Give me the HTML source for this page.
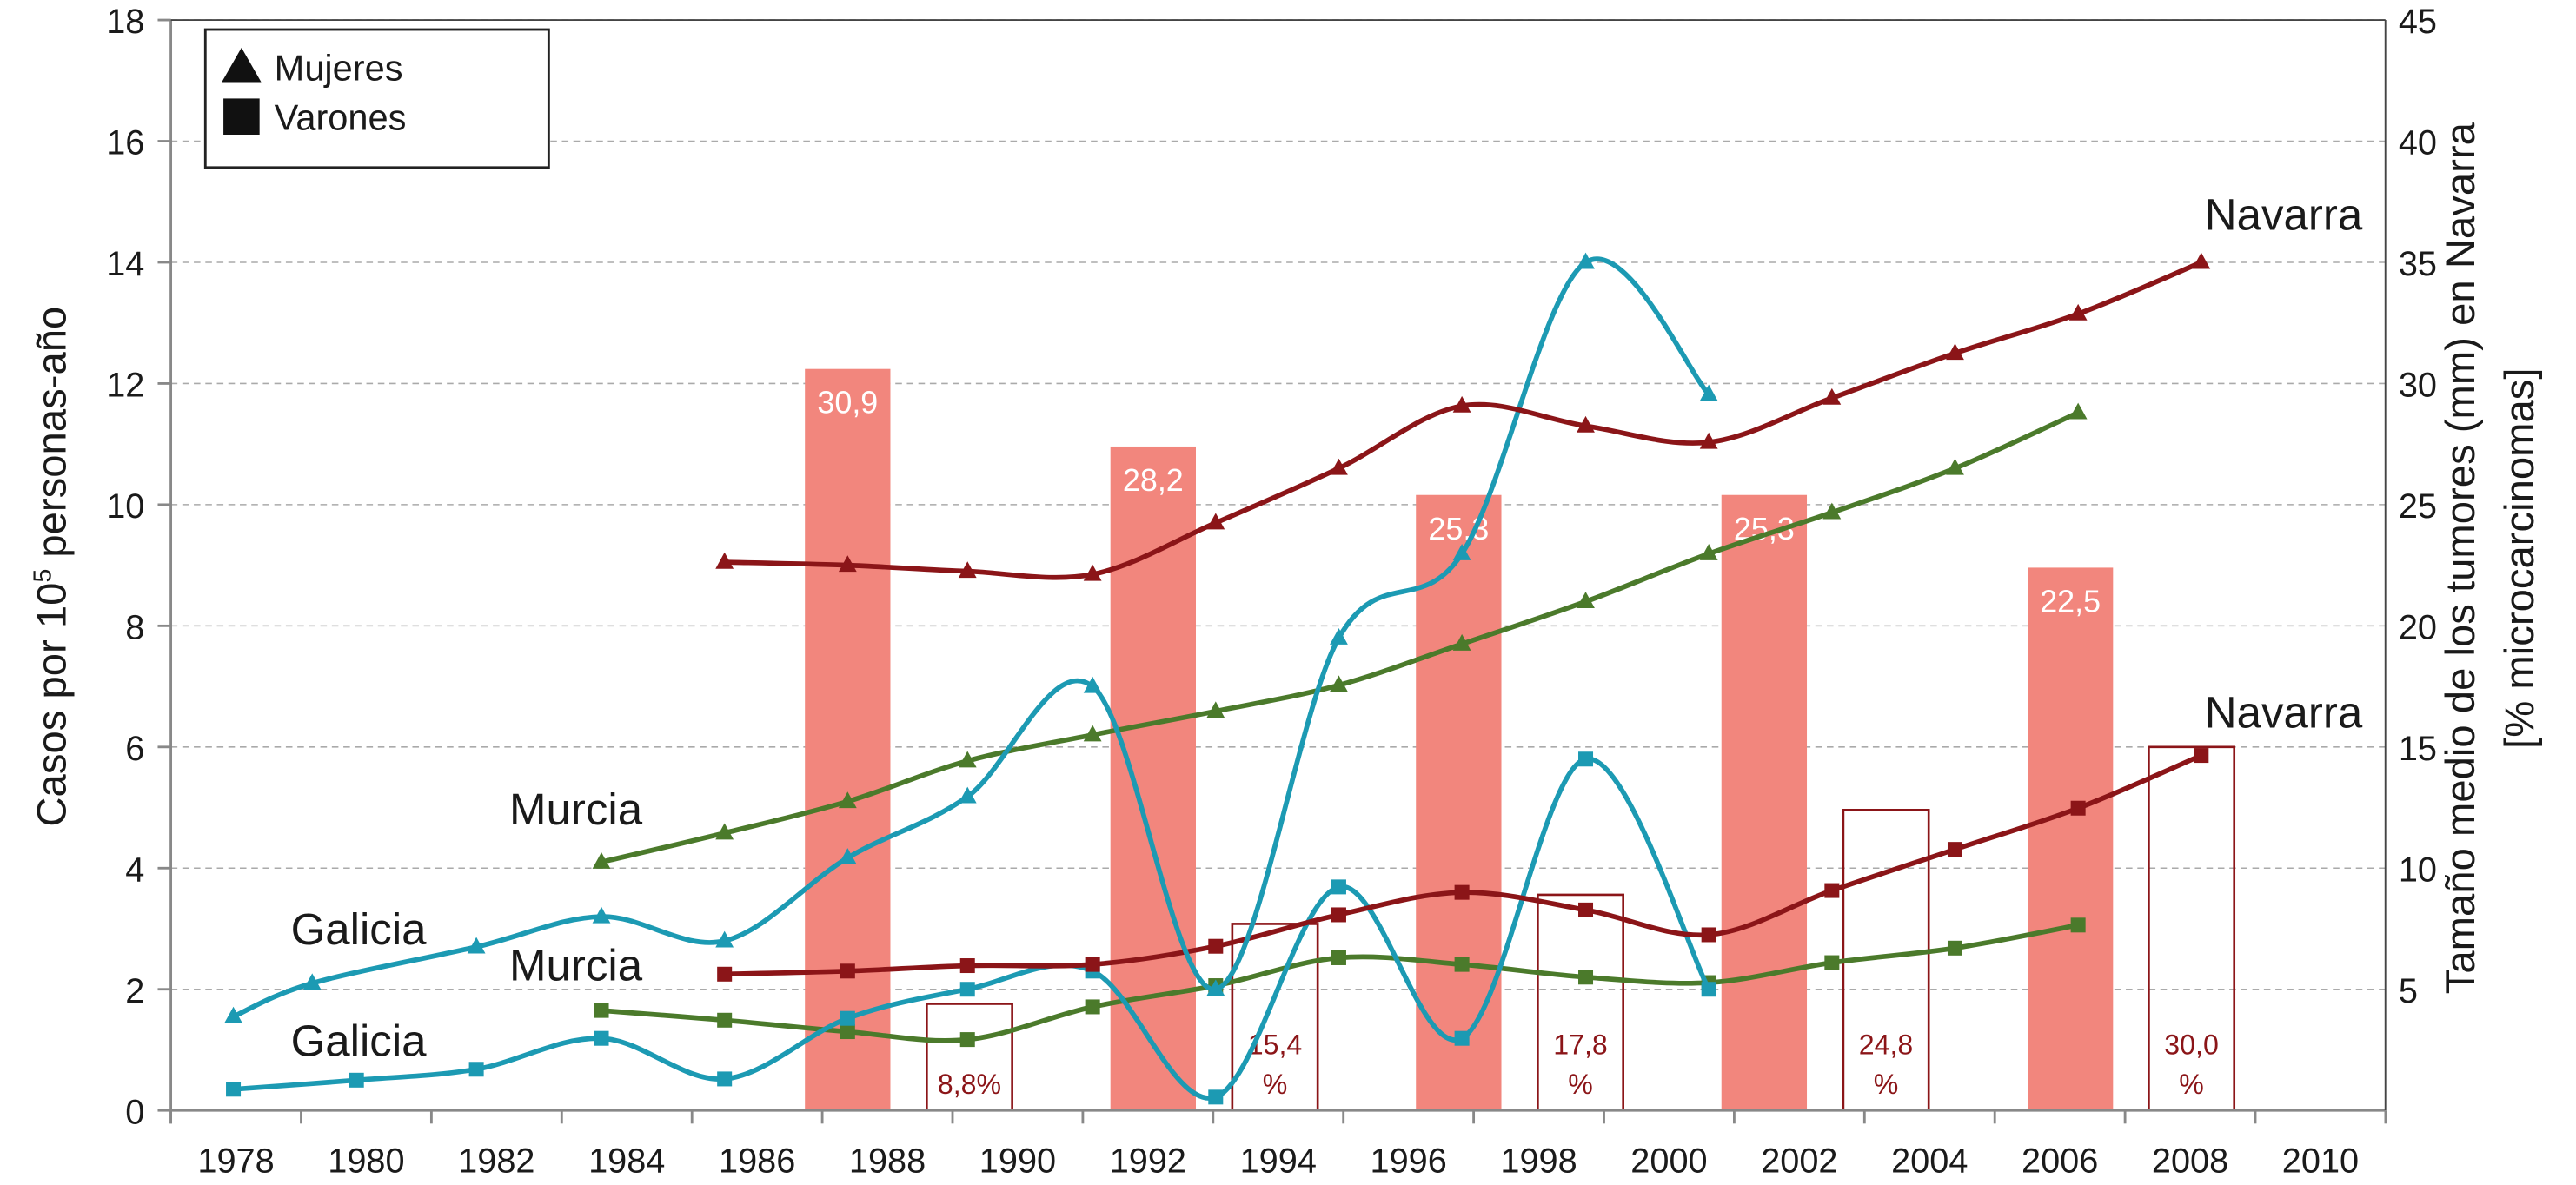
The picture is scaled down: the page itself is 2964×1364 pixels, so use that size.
<!DOCTYPE html>
<html><head><meta charset="utf-8"><style>
html,body{margin:0;padding:0;background:#fff;}
svg{display:block;font-family:"Liberation Sans",Arial,sans-serif;}
</style></head><body>
<svg id="chart" width="2964" height="1364" viewBox="0 0 1568 721.6" preserveAspectRatio="none" xmlns="http://www.w3.org/2000/svg"></svg>
<script>
const years = [1978,1980,1982,1984,1986,1988,1990,1992,1994,1996,1998,2000,2002,2004,2006,2008,2010];
const leftTicks = [0,2,4,6,8,10,12,14,16,18];
const rightTicks = [5,10,15,20,25,30,35,40,45];
const tLate = [1985.5,1987.39,1989.23,1991.15,1993.04,1994.93,1996.82,1998.72,2000.61,2002.5,2004.39,2006.28,2008.17];
const tMurcia = [1983.61,1985.5,1987.39,1989.23,1991.15,1993.04,1994.93,1996.82,1998.72,2000.61,2002.5,2004.39,2006.28];
const tGalW = [1977.96,1979.17,1981.69,1983.61,1985.5,1987.39,1989.23,1991.15,1993.04,1994.93,1996.82,1998.72,2000.61];
const tGalM = [1977.96,1979.85,1981.69,1983.61,1985.5,1987.39,1989.23,1991.15,1993.04,1994.93,1996.82,1998.72,2000.61];
const navarraW = [9.05,9.0,8.9,8.85,9.7,10.6,11.63,11.3,11.03,11.76,12.5,13.15,14.0];
const murciaW = [4.1,4.58,5.1,5.77,6.2,6.59,7.02,7.7,8.4,9.19,9.87,10.6,11.52];
const galiciaW = [1.55,2.1,2.7,3.2,2.8,4.17,5.18,7.0,2.0,7.8,9.19,14.0,11.82];
const navarraM = [2.25,2.3,2.39,2.41,2.71,3.23,3.6,3.31,2.9,3.63,4.31,4.99,5.86];
const murciaM = [1.65,1.49,1.3,1.17,1.71,2.06,2.52,2.41,2.2,2.11,2.44,2.68,3.06];
const galiciaM = [0.35,0.5,0.68,1.19,0.52,1.52,2.0,2.3,0.22,3.69,1.19,5.8,2.0];
const barYears = [1987.39,1992.08,1996.77,2001.46,2006.16];
const barValues = [30.6,27.4,25.4,25.4,22.4];
const barLabels = ["30,9","28,2","25,3","25,3","22,5"];
const boxYears = [1989.26,1993.95,1998.64,2003.33,2008.02];
const boxPct = [8.8,15.4,17.8,24.8,30.0];
const boxLabels = ["8,8%","15,4","17,8","24,8","30,0"];

const L=104,R=1452,T=12.2,B=676.2;
const xOf = y => L + 39.65*(y-1977);
const yL = v => B - v*(B-T)/18;
const yR = v => B - v*(B-T)/45;
const NS="http://www.w3.org/2000/svg";
const svg=document.getElementById('chart');
function mk(tag,attrs,parent){const e=document.createElementNS(NS,tag);for(const k in attrs)e.setAttribute(k,attrs[k]);(parent||svg).appendChild(e);return e;}
function txt(s,attrs,parent){const e=mk('text',attrs,parent);e.textContent=s;return e;}

leftTicks.forEach(v=>{ if(v===0) return;
  const g=mk('line',{x1:L,x2:R,y1:yL(v),y2:yL(v),stroke:'#aaa','stroke-width':0.8,'stroke-dasharray':'4 3'});
  
  
});
barYears.forEach((yr,i)=>{
  const x=xOf(yr)-26, y=yR(barValues[i]);
  const b=mk('rect',{x:x,y:y,width:52,height:B-y,fill:'#f2867d'});
  
  
  const t=txt(barLabels[i],{x:xOf(yr),y:y+27,'text-anchor':'middle','font-size':19,fill:'#fff'});
  
  
});
boxYears.forEach((yr,i)=>{
  const x=xOf(yr)-26, y=yR(boxPct[i]/2);
  const b=mk('rect',{x:x,y:y,width:52,height:B-y,fill:'none',stroke:'#8b1518','stroke-width':1.4});
  
  
  if(i===0){
    const t=txt(boxLabels[i],{x:xOf(yr),y:666,'text-anchor':'middle','font-size':17,fill:'#8b1518'});
    
    
  } else {
    const t=txt(boxLabels[i],{x:xOf(yr),y:642,'text-anchor':'middle','font-size':17,fill:'#8b1518'});
    
    
    const p=txt('%',{x:xOf(yr),y:666,'text-anchor':'middle','font-size':17,fill:'#8b1518'});
    
    
  }
});
function smooth(pts){
  let d='M'+pts[0][0]+','+pts[0][1];
  for(let i=0;i<pts.length-1;i++){
    const p0=pts[i-1]||pts[i],p1=pts[i],p2=pts[i+1],p3=pts[i+2]||p2;
    const c1=[p1[0]+(p2[0]-p0[0])/6,p1[1]+(p2[1]-p0[1])/6];
    const c2=[p2[0]-(p3[0]-p1[0])/6,p2[1]-(p3[1]-p1[1])/6];
    d+=' C'+c1+' '+c2+' '+p2;
  }
  return d;
}
function series(ts,vals,color,marker,name){
  const pts=ts.map((t,i)=>[xOf(t),yL(vals[i])]);
  const p=mk('path',{d:smooth(pts),fill:'none',stroke:color,'stroke-width':3});
  
  
  pts.forEach(pt=>{
    let m;
    if(marker==='tri') m=mk('polygon',{points:`${pt[0]},${pt[1]-6} ${pt[0]-5.5},${pt[1]+4} ${pt[0]+5.5},${pt[1]+4}`,fill:color});
    else m=mk('rect',{x:pt[0]-4.5,y:pt[1]-4.5,width:9,height:9,fill:color});
    
    
  });
}
const RED='#8b1518',GRN='#4b7a2b',TEAL='#1c9ab3';
series(tMurcia,murciaM,GRN,'sq','murcia-varones');
series(tGalM,galiciaM,TEAL,'sq','galicia-varones');
series(tLate,navarraM,RED,'sq','navarra-varones');
series(tMurcia,murciaW,GRN,'tri','murcia-mujeres');
series(tGalW,galiciaW,TEAL,'tri','galicia-mujeres');
series(tLate,navarraW,RED,'tri','navarra-mujeres');

let a=mk('line',{x1:L,x2:L,y1:T,y2:B+8,stroke:'#888','stroke-width':1.5});


a=mk('line',{x1:L,x2:R,y1:B,y2:B,stroke:'#888','stroke-width':1.5});


a=mk('line',{x1:R,x2:R,y1:T,y2:B,stroke:'#444','stroke-width':1});


a=mk('line',{x1:L,x2:R,y1:T,y2:T,stroke:'#444','stroke-width':1});


for(let k=0;k<=17;k++){
  const tk=mk('line',{x1:L+79.3*k,x2:L+79.3*k,y1:B,y2:B+8,stroke:'#888','stroke-width':1.5});
  
  
}
years.forEach(y=>{
  const t=txt(String(y),{x:xOf(y),y:714,'text-anchor':'middle','font-size':21,fill:'#1a1a1a'});
  
  
});
leftTicks.forEach(v=>{
  const tk=mk('line',{x1:L-8,x2:L,y1:yL(v),y2:yL(v),stroke:'#888','stroke-width':1.5});
  
  
  const t=txt(String(v),{x:88,y:yL(v)+8,'text-anchor':'end','font-size':21,fill:'#1a1a1a'});
  
  
});
rightTicks.forEach(v=>{
  const t=txt(String(v),{x:1460,y:yR(v)+8,'font-size':21,fill:'#1a1a1a'});
  
  
});
</script>
<script>
(function(){
const NS="http://www.w3.org/2000/svg",svg=document.getElementById('chart');
function t(s,attrs,name){const e=document.createElementNS(NS,'text');for(const k in attrs)e.setAttribute(k,attrs[k]);e.innerHTML=s;svg.appendChild(e);


return e;}
t('Casos por 10<tspan dy="-9" font-size="15">5</tspan><tspan dy="9"> personas-año</tspan>',{transform:'translate(40,345) rotate(-90)','text-anchor':'middle','font-size':25,fill:'#1a1a1a'},'y-axis-title');
t('Tamaño medio de los tumores (mm) en Navarra',{transform:'translate(1506,340) rotate(-90)','text-anchor':'middle','font-size':25,fill:'#1a1a1a'},'right-axis-title');
t('[% microcarcinomas]',{transform:'translate(1542,340) rotate(-90)','text-anchor':'middle','font-size':25,fill:'#1a1a1a'},'right-axis-subtitle');
t('Navarra',{x:1342,y:140,'font-size':27,fill:'#1a1a1a'},'navarra-mujeres-label');
t('Navarra',{x:1342,y:443,'font-size':27,fill:'#1a1a1a'},'navarra-varones-label');
t('Murcia',{x:310,y:502,'font-size':27,fill:'#1a1a1a'},'murcia-mujeres-label');
t('Murcia',{x:310,y:597,'font-size':27,fill:'#1a1a1a'},'murcia-varones-label');
t('Galicia',{x:177,y:575,'font-size':27,fill:'#1a1a1a'},'galicia-mujeres-label');
t('Galicia',{x:177,y:643,'font-size':27,fill:'#1a1a1a'},'galicia-varones-label');
const g=document.createElementNS(NS,'g');svg.appendChild(g);


g.innerHTML='<rect x="125" y="18" width="209" height="84" fill="#fff" stroke="#222" stroke-width="1.5"/>'+
'<polygon points="147,29 135,50 159,50" fill="#111"/><rect x="136" y="60" width="22" height="22" fill="#111"/>'+
'<text x="167" y="49" font-size="22" fill="#1a1a1a">Mujeres</text><text x="167" y="79" font-size="22" fill="#1a1a1a">Varones</text>';
})();
</script>
</body></html>
